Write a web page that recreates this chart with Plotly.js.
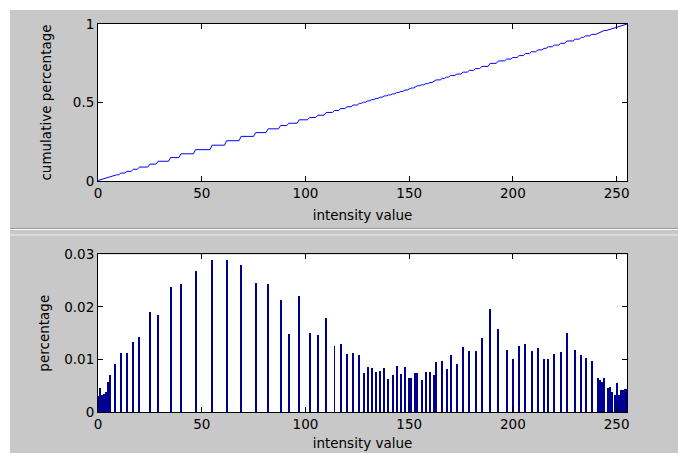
<!DOCTYPE html>
<html>
<head>
<meta charset="utf-8">
<script src="https://cdn.plot.ly/plotly-3.0.1.min.js"></script>
<style>html,body{margin:0;padding:0;background:#fff;}#chart{width:678px;height:453px;}</style>
</head>
<body>
<div id="chart"></div>
<script>
// Histogram bins (intensity value) and their share of pixels
const binIntensity = [0,1,2,3,4,5,6,8,11,14,17,20,25,29,35,40,47,55,62,69,76,82,88,92,97,102,106,110,114,117,120,123,
  126,128,130,132,134,136,138,140,142,144,146,148,150,151,153,154,156,158,160,162,163,166,168,170,173,176,179,182,185,
  189,193,197,200,203,206,209,212,215,217,220,223,226,230,233,235,238,241,242,243,244,246,247,248,249,250,251,252,253,254,255];
const binPercentage = [0.0031,0.0046,0.0032,0.0034,0.0039,0.0057,0.0070,0.0091,0.0112,0.0112,0.0133,0.0143,0.0191,0.0184,0.0238,0.0244,0.0268,0.0289,0.0289,0.0280,0.0245,0.0243,0.0214,0.0149,0.0221,0.0151,0.0146,0.0179,0.0125,0.0130,0.0111,0.0113,
  0.0109,0.0074,0.0086,0.0083,0.0077,0.0079,0.0083,0.0062,0.0070,0.0088,0.0072,0.0086,0.0065,0.0065,0.0074,0.0074,0.0060,0.0076,0.0076,0.0071,0.0095,0.0097,0.0081,0.0109,0.0091,0.0123,0.0116,0.0116,0.0140,
  0.0196,0.0158,0.0119,0.0101,0.0125,0.0130,0.0116,0.0121,0.0101,0.0101,0.0111,0.0114,0.0151,0.0119,0.0109,0.0102,0.0097,0.0065,0.0061,0.0057,0.0065,0.0046,0.0048,0.0039,0.0032,0.0055,0.0033,0.0041,0.0042,0.0043,0.0043];
const xTicks = [0,50,100,150,200,250];
const topYTicks = [0,0.5,1];
const bottomYTicks = [0,0.01,0.02,0.03];
const bottomYTickText = ['0','0.01','0.02','0.03'];

// cumulative percentage over every intensity level 0..255 (derived from the histogram)
const levels = [];
const perLevel = [];
for (let i = 0; i <= 255; i++) { levels.push(i); perLevel.push(0); }
binIntensity.forEach((v, k) => { perLevel[v] += binPercentage[k]; });
let run = 0;
const total = perLevel.reduce((a, b) => a + b, 0);
const cumulative = perLevel.map(p => { run += p; return run / total; });

const FONT = 'DejaVu Sans, sans-serif';
const axisCommon = {
  showline: true, linecolor: '#000', linewidth: 1, mirror: 'ticks',
  ticks: 'inside', ticklen: 5, tickcolor: '#000', tickwidth: 1,
  showgrid: false, zeroline: false,
  tickfont: {family: FONT, size: 13.5, color: '#000'}
};

const traces = [
  {x: levels, y: cumulative, type: 'scatter', mode: 'lines',
   line: {color: '#0000ff', width: 1}, xaxis: 'x', yaxis: 'y', hoverinfo: 'skip'},
  {x: binIntensity, y: binPercentage, type: 'bar', width: 0.96,
   marker: {color: '#000090', line: {width: 0}}, xaxis: 'x2', yaxis: 'y2', hoverinfo: 'skip'}
];

const layout = {
  width: 678, height: 453,
  margin: {l: 98, r: 51, t: 24, b: 41},
  paper_bgcolor: '#c8c8c8', plot_bgcolor: '#ffffff',
  showlegend: false,
  xaxis: Object.assign({}, axisCommon, {domain: [0, 1], anchor: 'y', range: [0, 255],
    tickvals: xTicks, title: {text: 'intensity value', font: {family: FONT, size: 13.5, color: '#000'}, standoff: 10}}),
  yaxis: Object.assign({}, axisCommon, {domain: [0.5954, 1], anchor: 'x', range: [0, 1],
    tickvals: topYTicks, ticktext: ['0','0.5','1'],
    title: {text: 'cumulative percentage', font: {family: FONT, size: 13.5, color: '#000'}, standoff: 18}}),
  xaxis2: Object.assign({}, axisCommon, {domain: [0, 1], anchor: 'y2', range: [0, 255],
    tickvals: xTicks, title: {text: 'intensity value', font: {family: FONT, size: 13.5, color: '#000'}, standoff: 7}}),
  yaxis2: Object.assign({}, axisCommon, {domain: [0, 0.406], anchor: 'x2', range: [0, 0.03],
    tickvals: bottomYTicks, ticktext: bottomYTickText,
    title: {text: 'percentage', font: {family: FONT, size: 13.5, color: '#000'}, standoff: 11}}),
  bargap: 0,
  shapes: [
    {type: 'rect', xref: 'paper', yref: 'paper', x0: -0.2, x1: 1.2, y0: 1.036, y1: 1.2, fillcolor: '#ffffff', line: {width: 0}, layer: 'above'},
    {type: 'rect', xref: 'paper', yref: 'paper', x0: -0.2, x1: -0.1664, y0: -0.2, y1: 1.2, fillcolor: '#ffffff', line: {width: 0}, layer: 'above'},
    {type: 'line', xref: 'paper', yref: 'paper', x0: -0.1664, x1: 1.2, y0: 0.4729, y1: 0.4729, line: {color: '#999999', width: 1}},
    {type: 'line', xref: 'paper', yref: 'paper', x0: -0.1664, x1: 1.2, y0: 0.4704, y1: 0.4704, line: {color: '#ffffff', width: 1}},
    {type: 'line', xref: 'paper', yref: 'paper', x0: -0.1664, x1: 1.2, y0: 0.4562, y1: 0.4562, line: {color: '#eeeeee', width: 1}}
  ]
};

Plotly.newPlot('chart', traces, layout, {staticPlot: true, displayModeBar: false});
</script>
</body>
</html>
